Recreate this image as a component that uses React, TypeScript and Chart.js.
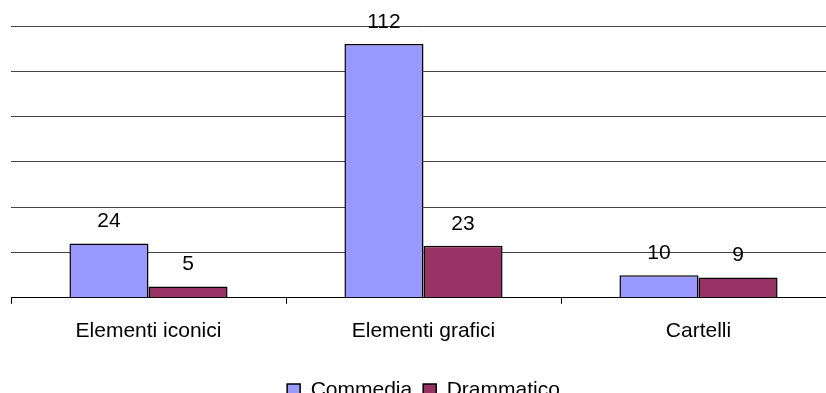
import React, { useEffect, useRef } from "react";
import { Chart, registerables } from "chart.js";

Chart.register(...registerables);

const categories = ["Elementi iconici", "Elementi grafici", "Cartelli"];
const commedia = [24, 112, 10];
const drammatico = [5, 23, 9];
const yMax = 120;
const yStep = 20;

const FONT = '"Liberation Sans", Arial, sans-serif';

// Writes each bar's value above it.
const valueLabels = {
  id: "valueLabels",
  afterDatasetsDraw(chart: any) {
    const ctx = chart.ctx;
    ctx.save();
    ctx.font = `21px ${FONT}`;
    ctx.fillStyle = "#000";
    ctx.textAlign = "center";
    ctx.textBaseline = "middle";
    chart.data.datasets.forEach((ds: any, i: number) => {
      const meta = chart.getDatasetMeta(i);
      meta.data.forEach((bar: any, j: number) => {
        ctx.fillText(String(ds.data[j]), bar.x, bar.y - 22);
      });
    });
    ctx.restore();
  },
};

export default function App() {
  const ref = useRef<HTMLCanvasElement>(null);

  useEffect(() => {
    if (!ref.current) return;
    const chart = new Chart(ref.current, {
      type: "bar",
      data: {
        labels: categories,
        datasets: [
          {
            label: "Commedia",
            data: commedia,
            backgroundColor: "#9999FF",
            borderColor: "#000",
            borderWidth: 1.5,
          },
          {
            label: "Drammatico",
            data: drammatico,
            backgroundColor: "#993366",
            borderColor: "#000",
            borderWidth: 1.5,
          },
        ],
      },
      options: {
        responsive: false,
        animation: false,
        datasets: { bar: { barPercentage: 1, categoryPercentage: 0.575 } },
        layout: { padding: { top: 26, left: 11, right: 10, bottom: 0 } },
        plugins: {
          tooltip: { enabled: false },
          legend: {
            position: "bottom",
            labels: {
              boxWidth: 13,
              boxHeight: 13,
              color: "#000",
              padding: 11,
              font: { family: FONT, size: 21 },
            },
          },
        },
        scales: {
          x: {
            grid: {
              offset: true,
              drawOnChartArea: false,
              drawTicks: true,
              tickLength: 6,
              color: "#000",
            },
            border: { display: true, color: "#000", width: 1 },
            ticks: {
              color: "#000",
              padding: 15,
              font: { family: FONT, size: 21 },
            },
            // leave room between the category labels and the legend
            afterFit(scale: any) {
              scale.height += 10;
            },
          },
          y: {
            min: 0,
            max: yMax,
            ticks: { display: false, stepSize: yStep },
            grid: { color: "#444", drawTicks: false },
            border: { display: false },
          },
        },
      },
      plugins: [valueLabels],
    });
    return () => chart.destroy();
  }, []);

  return (
    <div
      style={{
        position: "fixed",
        left: 0,
        top: 0,
        width: 826,
        height: 393,
        overflow: "hidden",
        background: "#fff",
      }}
    >
      <canvas ref={ref} width={846} height={411} style={{ display: "block" }} />
    </div>
  );
}
